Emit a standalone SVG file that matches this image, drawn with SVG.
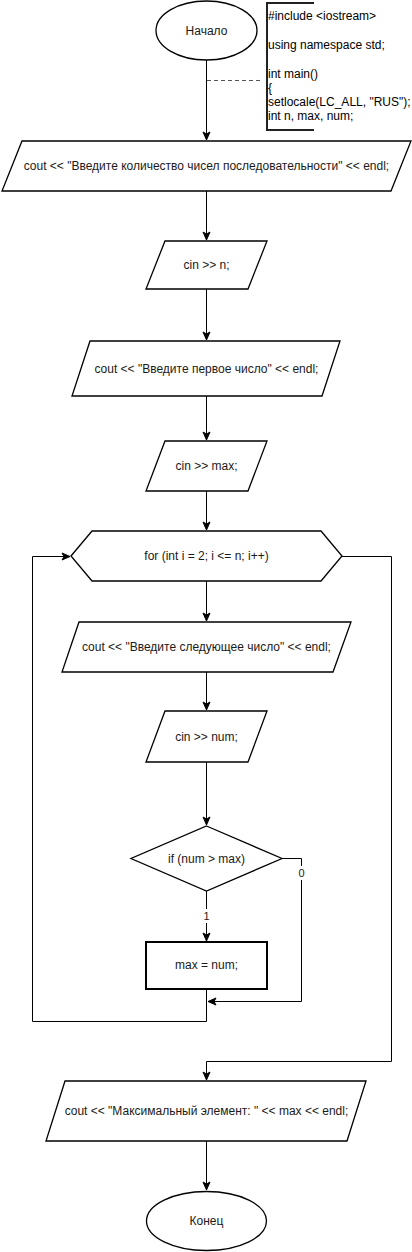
<svg xmlns="http://www.w3.org/2000/svg" width="412" height="1252" viewBox="0 0 412 1252">
<style>
.s{fill:#fff;stroke:#000;stroke-width:1.3}
.t{font-family:"Liberation Sans",Arial,sans-serif;font-size:12px;fill:#1a1a1a;text-anchor:middle;dominant-baseline:central}
.a{font-family:"Liberation Sans",Arial,sans-serif;font-size:12px;fill:#000;dominant-baseline:central}
.l{font-family:"Liberation Sans",Arial,sans-serif;font-size:11px;fill:#1a1a1a;text-anchor:middle;dominant-baseline:central}
.c{fill:none;stroke:#000;stroke-width:1}
</style>
<defs>
<marker id="arr" markerUnits="userSpaceOnUse" markerWidth="10" markerHeight="10" viewBox="0 0 10 10" refX="9" refY="5" orient="auto">
<path d="M1,1.5 L9,5 L1,8.5 L3,5 Z" fill="#000" stroke="#000" stroke-width="1"/>
</marker>
</defs>
<g id="connectors">
<path class="c" d="M206.5,60 V140" marker-end="url(#arr)"/>
<path class="c" d="M206.5,191 V240" marker-end="url(#arr)"/>
<path class="c" d="M206.5,289 V340" marker-end="url(#arr)"/>
<path class="c" d="M206.5,396 V440" marker-end="url(#arr)"/>
<path class="c" d="M206.5,491 V530" marker-end="url(#arr)"/>
<path class="c" d="M206.5,581 V621" marker-end="url(#arr)"/>
<path class="c" d="M206.5,672 V710" marker-end="url(#arr)"/>
<path class="c" d="M206.5,762 V825" marker-end="url(#arr)"/>
<path class="c" d="M206.5,891 V941" marker-end="url(#arr)"/>
<path class="c" d="M282,858.5 H301.5 V1001.5 H208" marker-end="url(#arr)"/>
<path class="c" d="M206.5,989 V1021.5 H32.5 V556.5 H70" marker-end="url(#arr)"/>
<path class="c" d="M342,556.5 H391.5 V1061.5 H206.5 V1080" marker-end="url(#arr)"/>
<path class="c" d="M206.5,1141 V1190" marker-end="url(#arr)"/>
<path d="M207,80.5 H263" fill="none" stroke="#555" stroke-width="1" stroke-dasharray="4,3"/>
<rect x="200" y="909" width="13" height="14" fill="#fff"/>
<text class="l" x="206.5" y="916">1</text>
<rect x="295" y="866" width="13" height="14" fill="#fff"/>
<text class="l" x="301.5" y="873">0</text>
</g>
<g id="start">
<ellipse class="s" cx="206.5" cy="30.5" rx="50.5" ry="29.5"/>
<text class="t" x="206.5" y="30.5">Начало</text>
</g>
<g id="note">
<path d="M314,3 H267 V130 H314" fill="none" stroke="#222" stroke-width="2"/>
<text class="a" x="268" y="16">#include &lt;iostream&gt;</text>
<text class="a" x="268" y="45">using namespace std;</text>
<text class="a" x="268" y="74">int main()</text>
<text class="a" x="268" y="88">{</text>
<text class="a" x="268" y="102">setlocale(LC_ALL, "RUS");</text>
<text class="a" x="268" y="116">int n, max, num;</text>
</g>
<g id="out1">
<polygon class="s" points="22,141 411,141 391,191 2,191"/>
<text class="t" x="206.5" y="166">cout &lt;&lt; "Введите количество чисел последовательности" &lt;&lt; endl;</text>
</g>
<g id="in1">
<polygon class="s" points="165,241 267,241 248,289 146,289"/>
<text class="t" x="206.5" y="265">cin &gt;&gt; n;</text>
</g>
<g id="out2">
<polygon class="s" points="90,341 340,341 322,396 72,396"/>
<text class="t" x="206.5" y="368.5">cout &lt;&lt; "Введите первое число" &lt;&lt; endl;</text>
</g>
<g id="in2">
<polygon class="s" points="165,441 267,441 248,491 146,491"/>
<text class="t" x="206.5" y="466">cin &gt;&gt; max;</text>
</g>
<g id="loop">
<polygon class="s" points="71,556 92,531 321,531 342,556 321,581 92,581"/>
<text class="t" x="206.5" y="556">for (int i = 2; i &lt;= n; i++)</text>
</g>
<g id="out3">
<polygon class="s" points="79,622 351,622 333,672 62,672"/>
<text class="t" x="206.5" y="647">cout &lt;&lt; "Введите следующее число" &lt;&lt; endl;</text>
</g>
<g id="in3">
<polygon class="s" points="165,711 267,711 248,762 146,762"/>
<text class="t" x="206.5" y="736.5">cin &gt;&gt; num;</text>
</g>
<g id="cond">
<polygon class="s" points="206.5,826 282,858.5 206.5,891 131,858.5"/>
<text class="t" x="206.5" y="858.5">if (num &gt; max)</text>
</g>
<g id="assign">
<rect x="146" y="942" width="121" height="47" fill="#fff" stroke="#000" stroke-width="2"/>
<text class="t" x="206.5" y="965">max = num;</text>
</g>
<g id="out4">
<polygon class="s" points="65,1081 366,1081 347,1141 46,1141"/>
<text class="t" x="206.5" y="1111">cout &lt;&lt; "Максимальный элемент: " &lt;&lt; max &lt;&lt; endl;</text>
</g>
<g id="end">
<ellipse class="s" cx="206.5" cy="1221" rx="60" ry="29.5"/>
<text class="t" x="206.5" y="1221">Конец</text>
</g>
</svg>
